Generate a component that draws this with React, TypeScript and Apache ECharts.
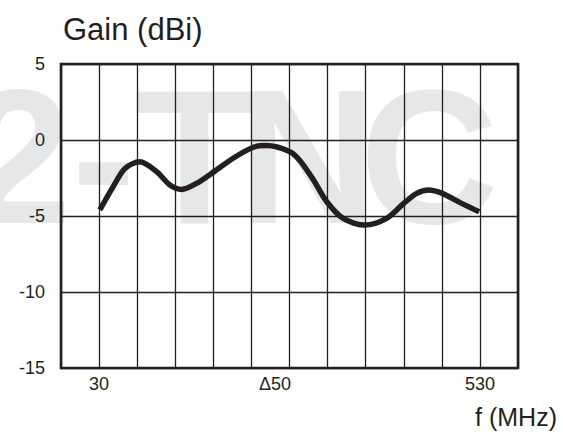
import React, { useEffect, useRef } from "react";
import * as echarts from "echarts";

// Frequency axis is drawn on a 12-column grid; positions are in column units.
const xColumns = 12;
const xTickValues = [1, 5.62, 11];
const xTickLabels = ["30", "Δ50", "530"];

const yTicks = [-15, -10, -5, 0, 5];

// Gain curve: [column position, gain dBi]
const curveX = [1.02, 1.37, 1.68, 2.07, 2.51, 2.86, 3.17, 3.56, 4.02, 4.52, 5.05, 5.4, 6.01, 6.26, 6.63, 6.98, 7.41, 7.98, 8.55, 9.0, 9.34, 9.65, 10.01, 10.52, 10.98];
const curveGain = [-4.6, -3.07, -1.87, -1.43, -2.08, -2.96, -3.25, -2.85, -2.08, -1.2, -0.48, -0.37, -0.77, -1.32, -2.63, -4.06, -5.16, -5.6, -5.16, -4.17, -3.51, -3.29, -3.51, -4.17, -4.72];

const yTitle = "Gain (dBi)";
const xTitle = "f (MHz)";
const watermarkParts = ["2-T", "N", "C"];

const INK = "#231f20";
const FONT = "'Liberation Sans', Arial, Helvetica, sans-serif";

export default function App() {
  const ref = useRef<HTMLDivElement>(null);
  useEffect(() => {
    if (!ref.current) return;
    const chart = echarts.init(ref.current, undefined, { renderer: "svg" });
    const data = curveX.map((x, i) => [x, curveGain[i]]);
    const wmLeft = [-35, 238, 360];
    chart.setOption({
      animation: false,
      backgroundColor: "#ffffff",
      grid: {
        left: 61,
        right: 45,
        top: 64,
        bottom: 73,
        show: true,
        borderColor: INK,
        borderWidth: 2.6,
        z: 3,
      },
      xAxis: {
        type: "value",
        min: 0,
        max: xColumns,
        interval: 1,
        axisLine: { show: false },
        axisTick: { show: false },
        splitLine: { show: true, lineStyle: { color: INK, width: 1.3 } },
        axisLabel: {
          customValues: xTickValues,
          formatter: (v: number) => {
            const i = xTickValues.findIndex((t) => Math.abs(t - v) < 1e-6);
            return i >= 0 ? xTickLabels[i] : "";
          },
          color: INK,
          fontSize: 18,
          fontFamily: FONT,
          margin: 7,
        },
      },
      yAxis: {
        type: "value",
        min: yTicks[0],
        max: yTicks[yTicks.length - 1],
        interval: 5,
        axisLine: { show: false },
        axisTick: { show: false },
        splitLine: { show: true, lineStyle: { color: INK, width: 1.3 } },
        axisLabel: {
          color: INK,
          fontSize: 18,
          fontFamily: FONT,
          margin: 16,
        },
      },
      graphic: [
        ...watermarkParts.map((t, i) => ({
          type: "text",
          z: -10,
          left: wmLeft[i],
          top: 60,
          style: {
            text: t,
            fill: "#e6e7e8",
            font: `bold 192px ${FONT}`,
          },
        })),
        {
          type: "text",
          left: 63,
          top: 14,
          style: { text: yTitle, fill: INK, font: `31px ${FONT}` },
        },
        {
          type: "text",
          right: 6,
          top: 404,
          style: { text: xTitle, fill: INK, font: `25px ${FONT}` },
        },
      ],
      series: [
        {
          type: "line",
          data,
          smooth: 0.3,
          showSymbol: false,
          lineStyle: { color: INK, width: 5.5 },
          z: 5,
        },
      ],
    });
    return () => chart.dispose();
  }, []);
  return (
    <div
      ref={ref}
      style={{ position: "fixed", left: 0, top: 0, width: 563, height: 441 }}
    />
  );
}
